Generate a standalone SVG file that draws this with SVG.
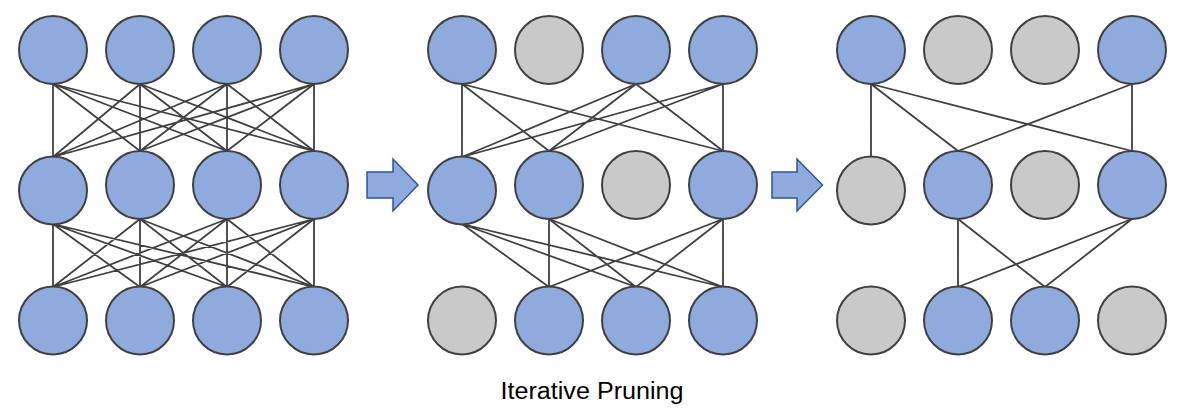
<svg xmlns="http://www.w3.org/2000/svg" width="1192" height="415" viewBox="0 0 1192 415">
<style>
.on{fill:#8FAADC;stroke:#404040;stroke-width:2}
.off{fill:#C9C9C9;stroke:#404040;stroke-width:2}
.ln{stroke:#404040;stroke-width:1.8;fill:none}
.arr{fill:#8FAADC;stroke:#2F5597;stroke-width:1.5}
.lbl{font-family:"Liberation Sans",Arial,sans-serif;font-size:23px;fill:#000}
</style>
<rect width="1192" height="415" fill="#fff"/>
<g id="connectors" class="ln">
<!-- network 1 top->middle -->
<path d="M53 84L53 157M53 84L140 151M53 84L227 151M53 84L314 151
M140 84L53 157M140 84L140 151M140 84L227 151M140 84L314 151
M227 84L53 157M227 84L140 151M227 84L227 151M227 84L314 151
M314 84L53 157M314 84L140 151M314 84L227 151M314 84L314 151"/>
<!-- network 1 middle->bottom -->
<path d="M53 224L53 287M53 224L140 287M53 224L227 287M53 224L314 287
M140 219L53 287M140 219L140 287M140 219L227 287M140 219L314 287
M227 219L53 287M227 219L140 287M227 219L227 287M227 219L314 287
M314 219L53 287M314 219L140 287M314 219L227 287M314 219L314 287"/>
<!-- network 2 -->
<path d="M462 84L462 157M462 84L549 151M462 84L723 151
M636 84L462 157M636 84L549 151M636 84L723 151
M723 84L462 157M723 84L549 151M723 84L723 151"/>
<path d="M462 224L549 287M462 224L636 287M462 224L723 287
M549 219L549 287M549 219L636 287M549 219L723 287
M723 219L549 287M723 219L636 287M723 219L723 287"/>
<!-- network 3 -->
<path d="M871 84L871 157M871 84L958 151M871 84L1132 151
M1132 84L958 151M1132 84L1132 151"/>
<path d="M958 219L958 287M958 219L1045 287M1132 219L958 287M1132 219L1045 287"/>
</g>
<g id="net1">
<circle id="n1_t1" class="on" cx="53" cy="50" r="34"/>
<circle id="n1_t2" class="on" cx="140" cy="50" r="34"/>
<circle id="n1_t3" class="on" cx="227" cy="50" r="34"/>
<circle id="n1_t4" class="on" cx="314" cy="50" r="34"/>
<circle id="n1_m1" class="on" cx="53" cy="190.5" r="34"/>
<circle id="n1_m2" class="on" cx="140" cy="185" r="34"/>
<circle id="n1_m3" class="on" cx="227" cy="185" r="34"/>
<circle id="n1_m4" class="on" cx="314" cy="185" r="34"/>
<circle id="n1_b1" class="on" cx="53" cy="320.5" r="34"/>
<circle id="n1_b2" class="on" cx="140" cy="320.5" r="34"/>
<circle id="n1_b3" class="on" cx="227" cy="320.5" r="34"/>
<circle id="n1_b4" class="on" cx="314" cy="320.5" r="34"/>
</g>
<g id="net2">
<circle id="n2_t1" class="on" cx="462" cy="50" r="34"/>
<circle id="n2_t2" class="off" cx="549" cy="50" r="34"/>
<circle id="n2_t3" class="on" cx="636" cy="50" r="34"/>
<circle id="n2_t4" class="on" cx="723" cy="50" r="34"/>
<circle id="n2_m1" class="on" cx="462" cy="190.5" r="34"/>
<circle id="n2_m2" class="on" cx="549" cy="185" r="34"/>
<circle id="n2_m3" class="off" cx="636" cy="185" r="34"/>
<circle id="n2_m4" class="on" cx="723" cy="185" r="34"/>
<circle id="n2_b1" class="off" cx="462" cy="320.5" r="34"/>
<circle id="n2_b2" class="on" cx="549" cy="320.5" r="34"/>
<circle id="n2_b3" class="on" cx="636" cy="320.5" r="34"/>
<circle id="n2_b4" class="on" cx="723" cy="320.5" r="34"/>
</g>
<g id="net3">
<circle id="n3_t1" class="on" cx="871" cy="50" r="34"/>
<circle id="n3_t2" class="off" cx="958" cy="50" r="34"/>
<circle id="n3_t3" class="off" cx="1045" cy="50" r="34"/>
<circle id="n3_t4" class="on" cx="1132" cy="50" r="34"/>
<circle id="n3_m1" class="off" cx="871" cy="190.5" r="34"/>
<circle id="n3_m2" class="on" cx="958" cy="185" r="34"/>
<circle id="n3_m3" class="off" cx="1045" cy="185" r="34"/>
<circle id="n3_m4" class="on" cx="1132" cy="185" r="34"/>
<circle id="n3_b1" class="off" cx="871" cy="320.5" r="34"/>
<circle id="n3_b2" class="on" cx="958" cy="320.5" r="34"/>
<circle id="n3_b3" class="on" cx="1045" cy="320.5" r="34"/>
<circle id="n3_b4" class="off" cx="1132" cy="320.5" r="34"/>
</g>
<g id="arrow1">
<path class="arr" d="M367 172L393 172L393 159L418 185L393 211L393 198L367 198Z"/>
</g>
<g id="arrow2">
<path class="arr" d="M772 172L797 172L797 159L822.5 185L797 211L797 198L772 198Z"/>
</g>
<g id="caption">
<text class="lbl" x="592" y="399" text-anchor="middle" textLength="183" lengthAdjust="spacingAndGlyphs">Iterative Pruning</text>
</g>
</svg>
